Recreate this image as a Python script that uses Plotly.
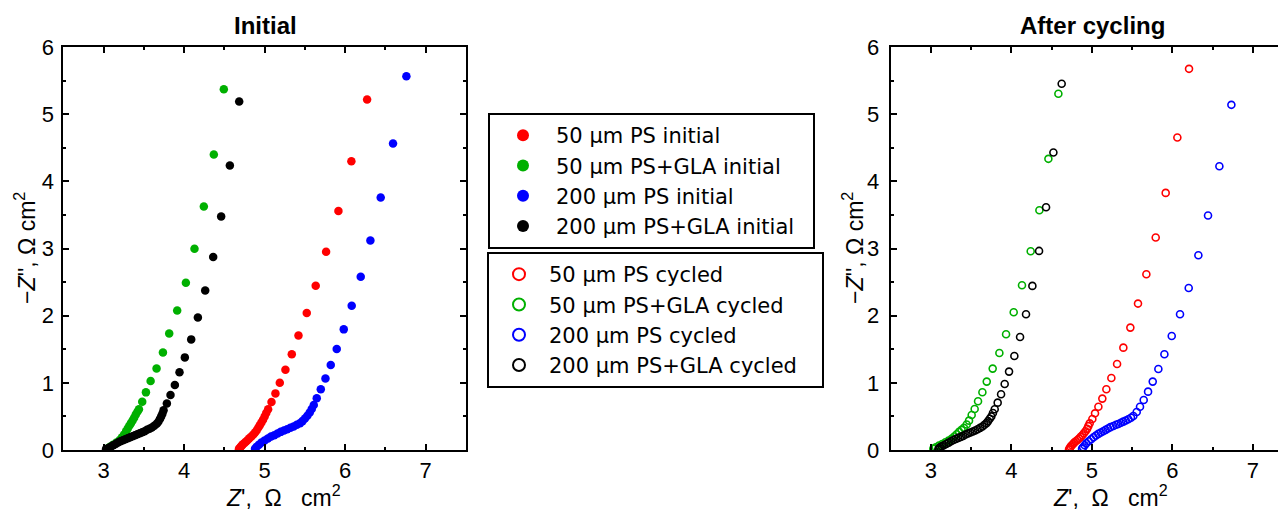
import plotly.graph_objects as go

# ---------------- data ----------------
# Initial (filled markers)
x_ps50_init = [4.68, 4.69, 4.70, 4.715, 4.73, 4.75, 4.77, 4.79, 4.81, 4.835, 4.86, 4.88, 4.90, 4.92,
               4.94, 4.96, 4.98, 5.00, 5.02, 5.043, 5.085, 5.134, 5.188, 5.258, 5.337, 5.42, 5.523,
               5.634, 5.763, 5.916, 6.077, 6.272]
y_ps50_init = [0.01, 0.025, 0.045, 0.065, 0.085, 0.105, 0.125, 0.15, 0.175, 0.20, 0.23, 0.26, 0.29, 0.33,
               0.37, 0.41, 0.45, 0.50, 0.55, 0.605, 0.714, 0.843, 1.002, 1.195, 1.424, 1.706, 2.04,
               2.445, 2.95, 3.56, 4.30, 5.218]

x_psgla50_init = [3.04, 3.08, 3.12, 3.16, 3.20, 3.23, 3.255, 3.28, 3.30, 3.32, 3.34, 3.36, 3.38, 3.40,
                  3.42, 3.439, 3.48, 3.526, 3.584, 3.658, 3.737, 3.815, 3.914, 4.022, 4.129, 4.245,
                  4.369, 4.493]
y_psgla50_init = [0.02, 0.05, 0.08, 0.11, 0.15, 0.19, 0.23, 0.28, 0.32, 0.36, 0.40, 0.44, 0.48, 0.53,
                  0.57, 0.605, 0.719, 0.858, 1.027, 1.215, 1.453, 1.736, 2.078, 2.49, 2.996, 3.626,
                  4.40, 5.372]

x_ps200_init = [4.88, 4.90, 4.93, 4.96, 5.00, 5.04, 5.08, 5.12, 5.16, 5.20, 5.24, 5.28, 5.32, 5.36,
                5.40, 5.44, 5.47, 5.50, 5.53, 5.56, 5.585, 5.61, 5.647, 5.697, 5.755, 5.821, 5.895,
                5.982, 6.081, 6.193, 6.313, 6.441, 6.594, 6.76]
y_ps200_init = [0.02, 0.05, 0.08, 0.11, 0.14, 0.17, 0.20, 0.22, 0.245, 0.27, 0.29, 0.31, 0.33, 0.35,
                0.375, 0.40, 0.43, 0.47, 0.51, 0.56, 0.61, 0.67, 0.769, 0.903, 1.066, 1.265, 1.503,
                1.796, 2.148, 2.58, 3.12, 3.76, 4.563, 5.565]

x_psgla200_init = [3.03, 3.06, 3.09, 3.12, 3.15, 3.18, 3.21, 3.24, 3.27, 3.30, 3.33, 3.36, 3.39, 3.42,
                   3.45, 3.48, 3.51, 3.54, 3.57, 3.60, 3.63, 3.66, 3.68, 3.70, 3.715, 3.73, 3.745,
                   3.786, 3.831, 3.885, 3.943, 4.009, 4.088, 4.171, 4.262, 4.361, 4.46, 4.568, 4.684]
y_psgla200_init = [0.01, 0.03, 0.05, 0.07, 0.09, 0.11, 0.13, 0.145, 0.16, 0.175, 0.19, 0.205, 0.22, 0.235,
                   0.25, 0.265, 0.28, 0.30, 0.315, 0.335, 0.36, 0.39, 0.42, 0.46, 0.50, 0.54, 0.59,
                   0.694, 0.818, 0.967, 1.156, 1.379, 1.647, 1.974, 2.376, 2.872, 3.477, 4.236, 5.188]

# After cycling (open markers)
x_ps50_cyc = [4.715, 4.725, 4.735, 4.75, 4.765, 4.78, 4.80, 4.82, 4.84, 4.86, 4.88, 4.90, 4.92, 4.94,
              4.955, 4.972, 5.005, 5.038, 5.08, 5.129, 5.179, 5.241, 5.312, 5.39, 5.477, 5.572, 5.676,
              5.792, 5.916, 6.061, 6.206]
y_ps50_cyc = [0.01, 0.03, 0.05, 0.07, 0.09, 0.11, 0.13, 0.15, 0.17, 0.195, 0.22, 0.25, 0.28, 0.315,
              0.355, 0.397, 0.462, 0.546, 0.645, 0.765, 0.904, 1.073, 1.281, 1.524, 1.822, 2.18, 2.617,
              3.163, 3.828, 4.652, 5.675]

x_psgla50_cyc = [3.03, 3.06, 3.10, 3.14, 3.18, 3.22, 3.26, 3.29, 3.32, 3.35, 3.38, 3.41, 3.444, 3.473,
                 3.506, 3.543, 3.585, 3.639, 3.693, 3.767, 3.85, 3.933, 4.028, 4.131, 4.239, 4.347,
                 4.459, 4.583]
y_psgla50_cyc = [0.02, 0.04, 0.065, 0.09, 0.115, 0.14, 0.17, 0.20, 0.235, 0.27, 0.30, 0.33, 0.38, 0.437,
                 0.521, 0.611, 0.725, 0.859, 1.018, 1.212, 1.445, 1.723, 2.051, 2.453, 2.959, 3.57,
                 4.335, 5.303]

x_ps200_cyc = [4.877, 4.89, 4.91, 4.93, 4.96, 4.99, 5.02, 5.05, 5.08, 5.11, 5.14, 5.17, 5.20, 5.23,
               5.266, 5.30, 5.328, 5.36, 5.39, 5.42, 5.452, 5.485, 5.514, 5.556, 5.597, 5.643, 5.697,
               5.755, 5.825, 5.90, 5.991, 6.094, 6.202, 6.322, 6.442, 6.583, 6.732]
y_ps200_cyc = [0.02, 0.04, 0.07, 0.10, 0.13, 0.16, 0.19, 0.215, 0.24, 0.26, 0.28, 0.30, 0.32, 0.34,
               0.357, 0.375, 0.387, 0.405, 0.422, 0.44, 0.457, 0.48, 0.506, 0.566, 0.645, 0.745, 0.869,
               1.018, 1.207, 1.425, 1.698, 2.021, 2.413, 2.90, 3.491, 4.225, 5.139]

x_psgla200_cyc = [3.092, 3.10, 3.115, 3.135, 3.16, 3.19, 3.22, 3.25, 3.28, 3.31, 3.34, 3.37, 3.40, 3.43,
                  3.46, 3.49, 3.52, 3.55, 3.58, 3.61, 3.64, 3.665, 3.69, 3.71, 3.73, 3.75, 3.77, 3.792,
                  3.829, 3.871, 3.916, 3.97, 4.036, 4.107, 4.181, 4.26, 4.343, 4.43, 4.521, 4.624]
y_psgla200_cyc = [0.01, 0.025, 0.04, 0.055, 0.07, 0.09, 0.11, 0.13, 0.15, 0.165, 0.18, 0.195, 0.21, 0.23,
                  0.245, 0.26, 0.275, 0.29, 0.31, 0.33, 0.35, 0.375, 0.40, 0.43, 0.465, 0.50, 0.55, 0.606,
                  0.705, 0.829, 0.983, 1.167, 1.40, 1.683, 2.021, 2.443, 2.964, 3.615, 4.429, 5.452]

names_init = ["50 μm PS initial", "50 μm PS+GLA initial", "200 μm PS initial", "200 μm PS+GLA initial"]
names_cyc = ["50 μm PS cycled", "50 μm PS+GLA cycled", "200 μm PS cycled", "200 μm PS+GLA cycled"]
colors = ["#ff0000", "#00b000", "#0000ff", "#000000"]

x_ticks = [3, 4, 5, 6, 7]
y_ticks = [0, 1, 2, 3, 4, 5, 6]

# ---------------- figure ----------------
# The page body has an 8 px default margin, so the figure starts at (8, 8) of the window.
OFF = 8
W, H = 1286 - OFF, 514 - OFF
FONT = "Liberation Sans, Arial, sans-serif"
LEGFONT = "DejaVu Sans, Liberation Sans, Arial, sans-serif"
PAD1 = "\u00a0\u00a0"        # widens the legend boxes a little on the right
PAD2 = "\u00a0\u00a0\u00a0"

fig = go.Figure()

init_sets = [(x_ps50_init, y_ps50_init), (x_psgla50_init, y_psgla50_init),
             (x_ps200_init, y_ps200_init), (x_psgla200_init, y_psgla200_init)]
cyc_sets = [(x_ps50_cyc, y_ps50_cyc), (x_psgla50_cyc, y_psgla50_cyc),
            (x_ps200_cyc, y_ps200_cyc), (x_psgla200_cyc, y_psgla200_cyc)]

for (xs, ys), nm, c in zip(init_sets, names_init, colors):
    fig.add_trace(go.Scatter(x=xs, y=ys, mode="markers", name=nm + PAD1, xaxis="x", yaxis="y",
                             legend="legend",
                             marker=dict(symbol="circle", size=8.5, color=c, line=dict(width=0))))

for (xs, ys), nm, c in zip(cyc_sets, names_cyc, colors):
    fig.add_trace(go.Scatter(x=xs, y=ys, mode="markers", name=nm + PAD2, xaxis="x2", yaxis="y2",
                             legend="legend2",
                             marker=dict(symbol="circle-open", size=7, color=c,
                                         line=dict(width=1.6, color=c))))

def px_x(p):
    # window pixel -> paper fraction
    return (p - OFF) / W

def px_y(p):
    return 1 - (p - OFF) / H

ydom = [px_y(450), px_y(47)]

axis_common = dict(
    showline=True, linewidth=2, linecolor="black", automargin=False,
    ticks="inside", ticklen=6, tickwidth=2, tickcolor="black",
    showgrid=False, zeroline=False,
    tickfont=dict(family=FONT, size=22, color="black"),
    minor=dict(ticks="inside", ticklen=3, tickwidth=2, tickcolor="black", dtick=0.5, showgrid=False),
)

fig.update_layout(
    template="none",
    width=W, height=H,
    margin=dict(l=0, r=0, t=0, b=0, pad=0),
    paper_bgcolor="white", plot_bgcolor="white",
    font=dict(family=FONT, color="black"),
    xaxis=dict(domain=[px_x(63.3), px_x(466)], range=[2.5, 7.5], tickvals=x_ticks,
               mirror="allticks", anchor="y", **axis_common),
    yaxis=dict(domain=ydom, range=[0, 6], tickvals=y_ticks, mirror="allticks", anchor="x",
               ticklabelstandoff=3, **axis_common),
    xaxis2=dict(domain=[px_x(890.7), 1.0], range=[2.5, 2.5 + (1286 - 890.7) / 80.5], tickvals=x_ticks,
                mirror="allticks", anchor="y2", **axis_common),
    yaxis2=dict(domain=ydom, range=[0, 6], tickvals=y_ticks, mirror=False, anchor="x2",
                ticklabelstandoff=5, **axis_common),
    legend=dict(x=px_x(488), y=px_y(113), xanchor="left", yanchor="top",
                bordercolor="black", borderwidth=2, bgcolor="white",
                font=dict(family=LEGFONT, size=21, color="black"),
                itemsizing="constant", itemwidth=56, traceorder="normal"),
    legend2=dict(x=px_x(487), y=px_y(252), xanchor="left", yanchor="top",
                 bordercolor="black", borderwidth=2, bgcolor="white",
                 font=dict(family=LEGFONT, size=21, color="black"),
                 itemsizing="constant", itemwidth=50, traceorder="normal"),
    showlegend=True,
)

ann = [
    dict(text="<b>Initial</b>", x=px_x(265), y=px_y(25), size=24, angle=0),
    dict(text="<b>After cycling</b>", x=px_x(1092), y=px_y(25), size=24, angle=0),
    dict(text="<i>Z</i>',&nbsp; Ω&nbsp;&nbsp; cm<sup>2</sup>", x=px_x(283), y=px_y(496), size=23, angle=0),
    dict(text="<i>Z</i>',&nbsp; Ω&nbsp;&nbsp; cm<sup>2</sup>", x=px_x(1110), y=px_y(496), size=23, angle=0),
    dict(text="−<i>Z</i>'', Ω cm<sup>2</sup>", x=px_x(25), y=px_y(248), size=23, angle=-90),
    dict(text="−<i>Z</i>'', Ω cm<sup>2</sup>", x=px_x(853), y=px_y(248), size=23, angle=-90),
]
for a in ann:
    fig.add_annotation(text=a["text"], x=a["x"], y=a["y"], xref="paper", yref="paper",
                       xanchor="center", yanchor="middle", showarrow=False, textangle=a["angle"],
                       font=dict(family=FONT, size=a["size"], color="black"))

fig.write_html("out.html")
